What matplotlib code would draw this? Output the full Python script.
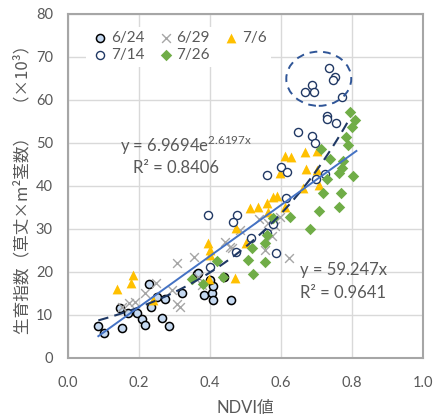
import numpy as np
import matplotlib
matplotlib.use('Agg')
import matplotlib.pyplot as plt
from matplotlib.patches import Ellipse

plt.rcParams['font.family'] = ['Lato', 'Noto Sans CJK JP', 'DejaVu Sans']
plt.rcParams['mathtext.fontset'] = 'custom'
plt.rcParams['mathtext.rm'] = 'Lato'

# 6/24
x0624 = [0.085, 0.100, 0.152, 0.146, 0.169, 0.194, 0.208, 0.217, 0.265, 0.285, 0.228, 0.234,
         0.250, 0.273, 0.321, 0.363, 0.383, 0.406, 0.408, 0.408, 0.400, 0.366, 0.459, 0.440]
y0624 = [7.4, 5.8, 7.0, 11.6, 10.4, 10.4, 9.0, 7.7, 9.3, 7.4, 17.2, 11.9,
         14.2, 13.7, 15.1, 19.5, 14.7, 15.1, 13.5, 16.7, 18.1, 19.8, 13.5, 18.8]
# 6/29
x0629 = [0.307, 0.355, 0.442, 0.248, 0.217, 0.172, 0.152, 0.315, 0.307, 0.293, 0.377, 0.366,
         0.189, 0.456, 0.485, 0.538, 0.564, 0.583, 0.597, 0.575, 0.555, 0.623, 0.462]
y0629 = [22.1, 23.5, 27.0, 17.4, 15.1, 12.8, 11.9, 11.9, 12.6, 15.8, 17.0, 18.8,
         13.0, 25.8, 29.8, 32.3, 31.4, 30.7, 32.8, 28.4, 25.1, 23.3, 25.6]
# 7/6
x0706 = [0.138, 0.177, 0.183, 0.239, 0.394, 0.400, 0.400, 0.397, 0.470, 0.473, 0.501, 0.513,
         0.535, 0.560, 0.577, 0.588, 0.563, 0.611, 0.597, 0.611, 0.628, 0.668, 0.701, 0.670,
         0.701, 0.707, 0.662]
y0706 = [16.0, 17.4, 19.3, 13.5, 26.7, 25.1, 24.0, 18.4, 18.6, 30.2, 26.7, 34.9,
         35.1, 36.0, 37.4, 37.6, 34.0, 35.1, 43.0, 47.0, 46.7, 47.9, 48.1, 44.0,
         43.7, 40.2, 39.5]
# 7/14
x0714 = [0.735, 0.752, 0.746, 0.687, 0.668, 0.693, 0.772, 0.730, 0.730, 0.755, 0.648, 0.687,
         0.696, 0.600, 0.617, 0.560, 0.698, 0.724, 0.614, 0.394, 0.476, 0.465, 0.515, 0.473,
         0.586, 0.577, 0.560, 0.400]
y0714 = [67.4, 65.3, 64.6, 63.5, 61.9, 61.9, 60.7, 56.3, 55.6, 54.7, 52.6, 51.6,
         50.0, 44.4, 43.3, 42.6, 41.6, 42.8, 37.2, 33.3, 33.3, 31.6, 27.9, 24.6,
         24.4, 31.2, 29.0, 21.2]
# 7/26
x0726 = [0.794, 0.808, 0.800, 0.783, 0.789, 0.713, 0.738, 0.775, 0.772, 0.764, 0.803, 0.730,
         0.718, 0.769, 0.707, 0.763, 0.682, 0.625, 0.577, 0.561, 0.555, 0.518, 0.507, 0.555,
         0.521, 0.420, 0.437, 0.380, 0.349]
y0726 = [57.2, 55.3, 53.7, 51.4, 49.5, 48.6, 46.3, 45.8, 44.2, 43.0, 42.3, 41.6,
         38.4, 38.4, 34.2, 35.1, 30.0, 32.8, 32.6, 28.6, 26.7, 25.6, 22.8, 22.3,
         19.5, 22.6, 18.8, 17.2, 18.4]

gray = '#595959'

fig = plt.figure(figsize=(4.34, 4.19), dpi=100)
ax = fig.add_axes([0.157, 0.146, 0.818, 0.821])

h1 = ax.scatter(x0624, y0624, s=34, facecolor='#c5d9f1', edgecolor='black', lw=1.1, zorder=3, label='6/24')
h2 = ax.scatter(x0629, y0629, s=40, marker='x', color='#a6a6a6', lw=1.0, zorder=3, label='6/29')
h3 = ax.scatter(x0706, y0706, s=50, marker='^', color='#ffc000', lw=0, zorder=3, label='7/6')
h4 = ax.scatter(x0714, y0714, s=34, facecolor='white', edgecolor='#203864', lw=1.0, zorder=3, label='7/14')
h5 = ax.scatter(x0726, y0726, s=34, marker='D', color='#70ad47', lw=0, zorder=3, label='7/26')

# trend lines
xe = np.linspace(0.085, 0.795, 100)
ax.plot(xe, 6.9694 * np.exp(2.6197 * xe), ls=(0, (5, 3)), color='#1f3864', lw=1.5, zorder=4)
xl = np.linspace(0.085, 0.812, 10)
ax.plot(xl, 59.247 * xl, color='#4472c4', lw=1.4, zorder=4)

ax.add_patch(Ellipse((0.706, 64.9), 0.183, 12.6, fill=False, ls=(0, (4, 3)),
                     edgecolor='#2f5597', lw=1.4, zorder=4))

ax.text(0.146, 49.3, 'y = 6.9694e$^{\\mathrm{2.6197x}}$', fontsize=12, color=gray, va='center')
ax.text(0.183, 44.2, 'R² = 0.8406', fontsize=12, color=gray, va='center')
ax.text(0.653, 20.5, 'y = 59.247x', fontsize=12, color=gray, va='center')
ax.text(0.653, 15.1, 'R² = 0.9641', fontsize=12, color=gray, va='center')

ax.set_xlim(0, 1.0)
ax.set_ylim(0, 80)
ax.set_xticks(np.arange(0, 1.01, 0.2))
ax.set_xticklabels(['0.0', '0.2', '0.4', '0.6', '0.8', '1.0'])
ax.set_yticks(range(0, 81, 10))
ax.tick_params(length=0, labelsize=10.5, labelcolor=gray)
ax.tick_params(axis='x', pad=13)
ax.tick_params(axis='y', pad=11)
ax.grid(color='#d9d9d9', lw=1)
ax.set_axisbelow(True)
for s in ax.spines.values():
    s.set_color('#a6a6a6')
    s.set_linewidth(1.5)

ax.set_xlabel('NDVI値', fontsize=12, color=gray, labelpad=7)
ax.set_ylabel('生育指数（草丈×m²茎数）　（×10³）', fontsize=12, color=gray,
              family=['Noto Sans CJK JP', 'DejaVu Sans'], labelpad=3)

leg = ax.legend([h1, h4, h2, h5, h3], ['6/24', '7/14', '6/29', '7/26', '7/6'], ncol=3,
                loc='upper left', bbox_to_anchor=(0.03, 0.985), frameon=True, fontsize=11,
                handletextpad=0.1, columnspacing=0.8, labelspacing=0.2, borderpad=0.3,
                handlelength=1.2, labelcolor=gray)
leg.get_frame().set_edgecolor('none')
leg.get_frame().set_facecolor('white')
leg.get_frame().set_alpha(1)

fig.savefig('out.png', dpi=100)
